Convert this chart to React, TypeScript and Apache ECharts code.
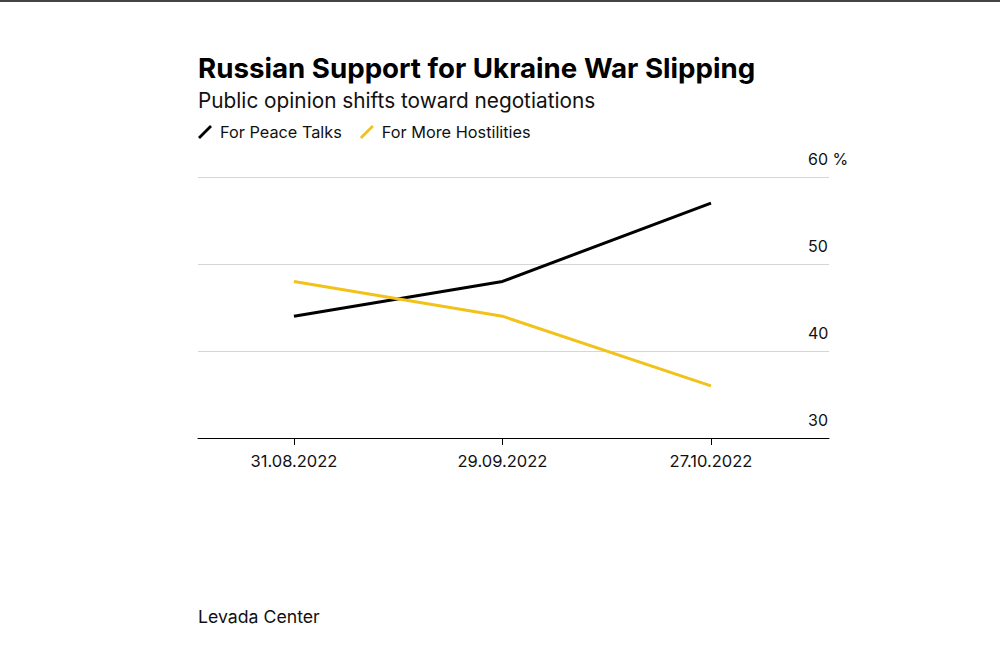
import React, { useEffect, useRef } from "react";
import * as echarts from "echarts";

const categories = ["31.08.2022", "29.09.2022", "27.10.2022"];
const peaceTalks = [44, 48, 57];
const moreHostilities = [48, 44, 36];
const yTicks = [30, 40, 50, 60];

const FONT = "Inter, 'Noto Sans', sans-serif";

export default function App() {
  const ref = useRef<HTMLDivElement>(null);
  useEffect(() => {
    if (!ref.current) return;
    const chart = echarts.init(ref.current, undefined, { renderer: "svg" });
    const toPts = (arr: number[]) => arr.map((v, i) => [i, v]);
    chart.setOption({
      animation: false,
      backgroundColor: "#ffffff",
      textStyle: { fontFamily: FONT },
      title: {
        left: 198,
        top: 54,
        text: "Russian Support for Ukraine War Slipping",
        subtext: "Public opinion shifts toward negotiations",
        itemGap: 8,
        padding: 0,
        textStyle: { fontFamily: FONT, fontSize: 27.7, fontWeight: "bold", color: "#000" },
        subtextStyle: { fontFamily: FONT, fontSize: 20.8, color: "#111" },
      },
      legend: {
        left: 198,
        top: 124,
        padding: 0,
        itemWidth: 14,
        itemHeight: 14,
        itemGap: 18,
        textStyle: { fontFamily: FONT, fontSize: 16.3, color: "#111", padding: [0, 0, 0, 3] },
        data: [
          { name: "For Peace Talks", icon: "path://M0,12 L2,14 L14,2 L12,0 Z" },
          { name: "For More Hostilities", icon: "path://M0,12 L2,14 L14,2 L12,0 Z" },
        ],
      },
      grid: { left: 198, right: 171, top: 177, bottom: 218, containLabel: false },
      xAxis: {
        type: "value",
        min: -0.46,
        max: 2.566,
        splitLine: { show: false },
        axisLine: { show: true, lineStyle: { color: "#000", width: 1 } },
        axisTick: { show: true, customValues: [0, 1, 2], length: 7, lineStyle: { color: "#000" } },
        axisLabel: {
          customValues: [0, 1, 2],
          formatter: (v: number) => categories[Math.round(v)] ?? "",
          fontFamily: FONT,
          fontSize: 16.5,
          color: "#111",
          margin: 14,
        },
      },
      yAxis: {
        type: "value",
        position: "right",
        min: 30,
        max: 60,
        interval: 10,
        axisLine: { show: false },
        axisTick: { show: false },
        splitLine: { show: true, lineStyle: { color: "#d6d6d6", width: 1 } },
        axisLabel: {
          margin: -21,
          align: "left",
          verticalAlign: "bottom",
          padding: [0, 0, 10, 0],
          fontFamily: FONT,
          fontSize: 16,
          color: "#111",
          formatter: (v: number) => (v === yTicks[yTicks.length - 1] ? v + " %" : String(v)),
        },
      },
      series: [
        {
          name: "For Peace Talks",
          type: "line",
          data: toPts(peaceTalks),
          symbol: "none",
          color: "#000000",
          lineStyle: { width: 3, color: "#000000" },
        },
        {
          name: "For More Hostilities",
          type: "line",
          data: toPts(moreHostilities),
          symbol: "none",
          color: "#f2c21b",
          lineStyle: { width: 3, color: "#f2c21b" },
        },
      ],
      graphic: [
        { type: "rect", left: 0, top: 0, shape: { width: 1000, height: 2 }, style: { fill: "#444" } },
        {
          type: "text",
          left: 198,
          top: 607,
          style: { text: "Levada Center", fontFamily: FONT, fontSize: 17.7, fill: "#111" },
        },
      ],
    });
    return () => chart.dispose();
  }, []);
  return <div ref={ref} style={{ width: 1000, height: 656, position: "fixed", left: 0, top: 0 }} />;
}
